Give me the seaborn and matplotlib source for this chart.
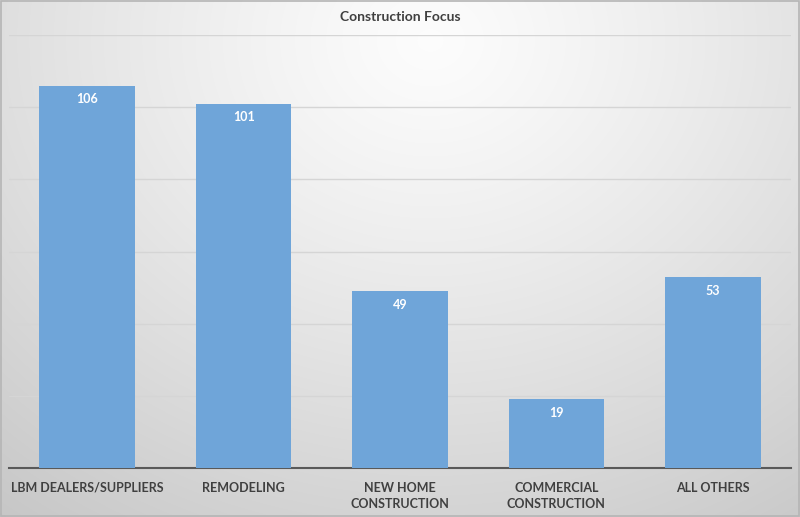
import numpy as np
import pandas as pd
import matplotlib
matplotlib.use("Agg")
import matplotlib.pyplot as plt
import seaborn as sns

# datos del grafico
categorias = ["LBM DEALERS/SUPPLIERS", "REMODELING", "NEW HOME\nCONSTRUCTION",
              "COMMERCIAL\nCONSTRUCTION", "ALL OTHERS"]
valores = [106, 101, 49, 19, 53]
titulo = "Construction Focus"

sns.set_theme(style="white")
plt.rcParams["font.family"] = ["Lato", "DejaVu Sans"]
plt.rcParams["font.weight"] = "bold"

df = pd.DataFrame({"categoria": categorias, "valor": valores})

fig = plt.figure(figsize=(8, 5.17), dpi=100)

# fondo con degradado radial (claro arriba al centro, gris hacia los bordes)
bg = fig.add_axes([0, 0, 1, 1], zorder=0)
h, w = 517, 800
yy, xx = np.mgrid[0:h, 0:w]
dist = np.sqrt(((xx - 430) / 700.0) ** 2 + ((yy - 40) / 600.0) ** 2)
dist = np.clip(dist, 0, 1)
shade = 0.99 - 0.21 * dist ** 1.2
bg.imshow(np.dstack([shade, shade, shade]), aspect="auto", extent=[0, 1, 0, 1])
bg.add_patch(plt.Rectangle((0.001, 0.002), 0.998, 0.996, fill=False,
                           edgecolor="#b5b5b5", lw=1.2, transform=bg.transAxes))
bg.axis("off")

ax = fig.add_axes([9 / 800, 49 / 517, 782 / 800, 433 / 517], zorder=1)
ax.patch.set_alpha(0)

sns.barplot(data=df, x="categoria", y="valor", color="#6fa5d9", saturation=1,
            width=0.61, linewidth=0, ax=ax, zorder=3)

ax.set_ylim(0, 120)
ax.set_yticks(np.arange(0, 121, 20))
ax.set_yticklabels([])
ax.tick_params(axis="y", length=0)
ax.tick_params(axis="x", length=0, pad=10, labelsize=9, labelcolor="#404040")
ax.yaxis.grid(True, color="#d5d5d5", lw=1, zorder=0)
ax.set_axisbelow(True)
for lab in ax.get_xticklabels():
    lab.set_fontweight("bold")
    lab.set_linespacing(1.45)

for s in ["top", "right", "left"]:
    ax.spines[s].set_visible(False)
ax.spines["bottom"].set_color("#595959")
ax.spines["bottom"].set_linewidth(1.5)

ax.set_xlabel("")
ax.set_ylabel("")

for i, v in enumerate(valores):
    ax.annotate(str(v), (i, v), xytext=(0, -10), textcoords="offset points",
                ha="center", va="center", color="white", fontsize=9,
                fontweight="bold", zorder=5)

fig.text(0.5, 1 - 17 / 517, titulo, ha="center", va="center",
         fontsize=10, color="#404040", fontweight="bold")

fig.savefig("out.png", dpi=100)
